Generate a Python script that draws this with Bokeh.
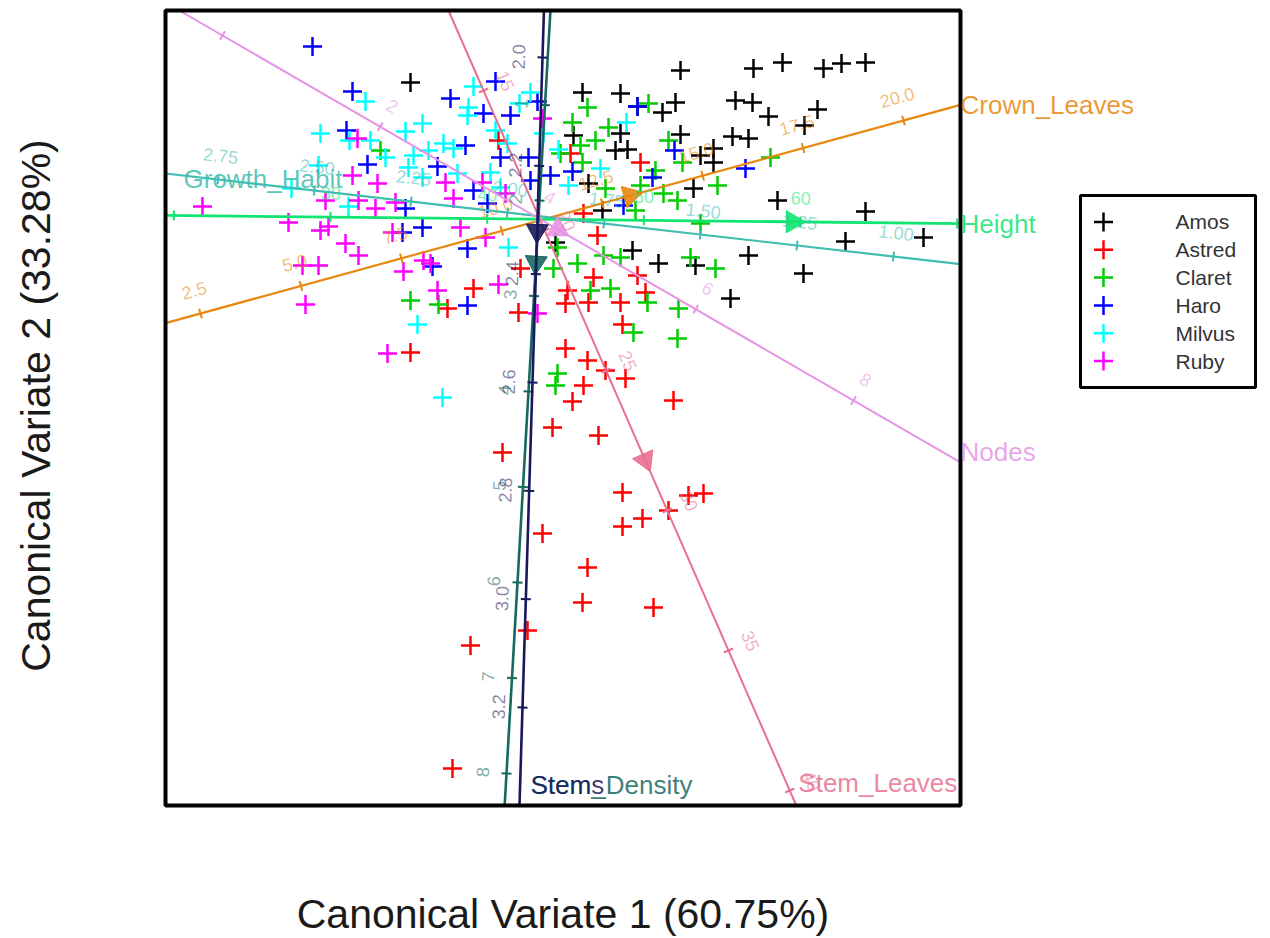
import math
from bokeh.plotting import figure
from bokeh.models import Label
from bokeh.embed import file_html
from bokeh.resources import INLINE
from bokeh.core.properties import value

FONT = "Liberation Sans"

# ---------------- data: canonical variate scores per cultivar ----------------
cultivars = ["Amos", "Astred", "Claret", "Haro", "Milvus", "Ruby"]
point_colors = ["#000000", "#FF0000", "#00CD00", "#0000FF", "#00FFFF", "#FF00FF"]

amos_cv1 = [-1.28, 0.44, 0.82, 1.42, 2.15, 2.44, 2.85, 3.03, 3.27, 0.99, 1.24, 1.37, 1.97, 2.14,
            2.30, 2.79, 2.66, 0.35, 0.82, 1.42, 1.94, 2.10, 0.77, 0.89, 1.62, 1.75, 1.75, 0.50,
            1.55, 2.39, 3.27, 3.07, 3.85, 0.94, 1.20, 1.57, 2.10, 2.65, 1.92, 0.17, 0.64]
amos_cv2 = [1.37, 1.27, 1.26, 1.49, 1.51, 1.57, 1.51, 1.56, 1.57, 1.13, 1.07, 1.17, 1.19, 1.17,
            1.03, 1.10, 0.94, 0.84, 0.86, 0.85, 0.83, 0.81, 0.69, 0.70, 0.64, 0.71, 0.57, 0.36,
            0.31, 0.19, 0.08, -0.22, -0.18, -0.31, -0.44, -0.46, -0.36, -0.54, -0.79, -0.23, 0.09]

astred_cv1 = [-0.40, 0.32, 1.02, 0.45, 0.59, -0.18, -0.65, -0.91, -0.20, 0.29, 0.55, 0.99, 1.07,
              0.50, 0.82, 0.27, 0.84, -1.28, 0.27, 0.49, 0.67, 0.87, 0.45, 0.34, 1.35, 0.14,
              0.60, -0.36, 0.84, 1.50, 1.65, 1.30, 1.04, 0.84, 0.04, 0.49, 0.44, 1.15, -0.11,
              -0.68, -0.86]
astred_cv2 = [0.79, 0.66, 0.57, 0.06, -0.16, -0.49, -0.69, -0.89, -0.93, -0.71, -0.58, -0.56, -0.73,
              -0.83, -0.83, -0.84, -1.05, -1.33, -1.29, -1.41, -1.51, -1.59, -1.66, -1.82, -1.81,
              -2.08, -2.16, -2.33, -2.73, -2.76, -2.74, -2.91, -2.99, -3.07, -3.14, -3.48, -3.83,
              -3.88, -4.11, -4.26, -5.49]

claret_cv1 = [-1.58, 0.34, 0.49, 0.70, 0.57, 0.42, 1.10, 0.22, 0.44, 0.67, 1.02, 1.30, 1.17, 1.44,
              1.25, 1.39, 0.97, 1.79, 2.32, 1.62, 0.39, 0.19, 0.65, 0.82, 1.52, 1.77, 0.52, 0.72,
              1.09, 1.40, 0.95, 1.39, 0.19, 0.17, -1.28, -1.00, 0.15]
claret_cv2 = [0.69, 0.97, 1.12, 0.92, 0.79, 0.74, 1.16, 0.66, 0.57, 0.31, 0.34, 0.79, 0.49, 0.57,
              0.26, 0.19, 0.09, 0.34, 0.62, -0.04, -0.44, -0.28, -0.36, -0.38, -0.38, -0.49, -0.71,
              -0.69, -0.83, -0.89, -1.13, -1.19, -1.54, -1.66, -0.81, -0.85, -0.49]

haro_cv1 = [-2.26, -1.86, -1.92, -1.71, -0.88, -0.43, -0.55, -0.28, -0.01, -1.01, -0.73, -0.38,
            -0.10, -0.65, -0.51, -0.08, 0.12, 0.34, -1.33, -1.16, -1.36, -0.71, -1.06, -0.71,
            0.99, 1.36, 1.14, 2.07, 0.85]
haro_cv2 = [1.73, 1.28, 0.89, 0.55, 1.21, 1.38, 1.06, 1.04, 1.18, 0.53, 0.74, 0.62, 0.62, 0.29,
            0.16, 0.39, 0.44, 0.48, 0.11, -0.08, -0.13, -0.29, -0.47, -0.86, 1.13, 0.69, 0.42,
            0.51, 0.14]

milvus_cv1 = [-1.73, -2.18, -1.89, -1.68, -1.53, -1.33, -1.16, -1.25, -1.30, -1.10, -2.20, -1.16,
              -2.47, -1.90, -0.70, -0.65, -0.08, -0.19, -0.95, -0.85, -0.81, -0.48, -0.31, -0.38,
              0.05, 0.20, 0.30, 0.62, 0.88, -0.71, -0.43, -0.30, -1.21, -0.96]
milvus_cv2 = [1.18, 0.86, 0.79, 0.79, 0.62, 0.88, 0.96, 0.64, 0.52, 0.69, 0.54, 0.42, 0.31, 0.13,
              1.12, 1.33, 1.27, 1.16, 0.76, 0.71, 0.46, 0.47, 0.76, 0.32, 0.86, 0.70, 0.34, 0.51,
              0.97, 1.04, 0.89, -0.28, -1.05, -1.78]

ruby_cv1 = [-3.36, -2.50, -2.18, -2.10, -1.93, -1.80, -2.36, -2.20, -2.33, -1.51, -1.46, -1.35,
            -1.15, -1.63, -1.81, -1.61, -1.86, -2.13, -1.80, -1.43, -0.93, -0.85, -0.56, -0.33,
            0.04, -0.78, -0.53, -1.01, -0.40, -0.01, -1.08]
ruby_cv2 = [0.13, -0.03, -0.11, -0.07, -0.24, -0.36, -0.46, -0.46, -0.85, -1.34, -0.13, -0.52,
            -0.41, 0.11, 0.81, 0.36, 0.44, 0.19, 0.19, 0.17, 0.37, 0.21, 0.37, 0.26, 1.01, -0.08,
            -0.18, -0.71, -0.65, -0.94, -0.44]

group_cv1 = [amos_cv1, astred_cv1, claret_cv1, haro_cv1, milvus_cv1, ruby_cv1]
group_cv2 = [amos_cv2, astred_cv2, claret_cv2, haro_cv2, milvus_cv2, ruby_cv2]

# ---------------- biplot axes (calibrated variables) ----------------
axis_names = ["Crown_Leaves", "Height", "Growth_Habit", "Nodes", "Stem_Leaves", "Stem_Density", "Stems"]
axis_colors = ["#E8870E", "#11E56F", "#3FBDB0", "#E794E6", "#E8708F", "#17695F", "#17195C"]
# calibration: value_a, cv1_a, cv2_a, value_b, cv1_b, cv2_b
axis_calibration = [
    (2.5, -3.38, -0.94, 20.0, 3.65, 0.99),
    (30, -2.08, 0.024, 60, 2.62, -0.024),
    (1.50, 1.62, -0.15, 1.00, 3.55, -0.37),
    (0, -3.16, 1.84, 8, 3.15, -1.81),
    (15, -0.55, 1.29, 35, 1.90, -4.31),
    (4, -0.10, -1.72, 8, -0.32, -5.54),
    (2.6, -0.06, -1.63, 3.2, -0.16, -4.88),
]
axis_ticks = [
    [2.5, 5.0, 7.5, 10.0, 12.5, 15.0, 17.5, 20.0],
    [20, 30, 40, 50, 60, 70],
    [1.00, 1.25, 1.50, 1.75, 2.00, 2.25, 2.50, 2.75],
    [0, 2, 4, 6, 8],
    [15, 20, 25, 30, 35, 40],
    [1, 2, 3, 4, 5, 6, 7, 8],
    [2.0, 2.2, 2.4, 2.6, 2.8, 3.0, 3.2],
]
axis_tick_format = ["{:.1f}", "{:.0f}", "{:.2f}", "{:.0f}", "{:.0f}", "{:.0f}", "{:.1f}"]
axis_mean_marker = [13.2, 59.5, None, 4.25, 28.2, 2.65, 2.32]
axis_label_side = [1, 1, -1, 1, 1, -1, -1]
axis_line_width = [2.2, 2.8, 2.2, 2.0, 2.0, 2.6, 2.6]
axis_name_offset_px = [(0, 0), (0, 0), (18, -5), (0, 10), (2, 23), (26, 21), (11, 21)]

# plot box (canonical variate window) and whole canvas, in canonical-variate units
BOX_X = (-3.73, 4.22)
BOX_Y = (-5.86, 2.09)
W, H = 1262, 936
X_RANGE = (-5.38, -5.38 + W / 100)
Y_RANGE = (2.19 - H / 100, 2.19)
PX = 100.0

# legend box (same units), to the right of the plot box
LEG_X = (5.42, 7.17)
LEG_Y = (-1.68, 0.24)

p = figure(width=W, height=H, x_range=X_RANGE, y_range=Y_RANGE,
           x_axis_location=None, y_axis_location=None,
           toolbar_location=None, output_backend="svg",
           min_border_left=0, min_border_right=0, min_border_top=0, min_border_bottom=0,
           outline_line_color=None,
           background_fill_color="white", border_fill_color="white")
p.xgrid.visible = False
p.ygrid.visible = False


def inside(x, y, m=0.0):
    return BOX_X[0] + m <= x <= BOX_X[1] - m and BOX_Y[0] + m <= y <= BOX_Y[1] - m


# points
for xs, ys, c, n in zip(group_cv1, group_cv2, point_colors, cultivars):
    p.scatter(xs, ys, marker="cross", size=19, line_width=2.5, line_color=c, name=n)

# axes
for i, name in enumerate(axis_names):
    c = axis_colors[i]
    v1, x1, y1, v2, x2, y2 = axis_calibration[i]
    ux, uy = (x2 - x1) / (v2 - v1), (y2 - y1) / (v2 - v1)
    L = math.hypot(ux, uy)
    dx, dy = ux / L, uy / L
    t_lo, t_hi = -1e9, 1e9
    for p0, d, lo, hi in ((x1, dx, BOX_X[0], BOX_X[1]), (y1, dy, BOX_Y[0], BOX_Y[1])):
        if abs(d) > 1e-12:
            ta, tb = (lo - p0) / d, (hi - p0) / d
            t_lo = max(t_lo, min(ta, tb))
            t_hi = min(t_hi, max(ta, tb))
    xa, ya = x1 + t_lo * dx, y1 + t_lo * dy
    xb, yb = x1 + t_hi * dx, y1 + t_hi * dy
    p.line([xa, xb], [ya, yb], line_color=c, line_width=axis_line_width[i])

    side = axis_label_side[i]
    nx, ny = -dy * side, dx * side
    h = 5 / PX
    off = 24 / PX
    tv = [v for v in axis_ticks[i] if inside(x1 + (v - v1) * ux, y1 + (v - v1) * uy)]
    tx = [x1 + (v - v1) * ux for v in tv]
    ty = [y1 + (v - v1) * uy for v in tv]
    p.segment(x0=[x - h * nx for x in tx], y0=[y - h * ny for y in ty],
              x1=[x + h * nx for x in tx], y1=[y + h * ny for y in ty],
              line_color=c, line_width=2)
    theta = math.atan2(dy, dx)
    if theta > math.pi / 2 + 1e-9:
        theta -= math.pi
    elif theta <= -math.pi / 2:
        theta += math.pi
    lab = [(x + off * nx, y + off * ny, axis_tick_format[i].format(v))
           for x, y, v in zip(tx, ty, tv) if inside(x + off * nx, y + off * ny, 0.1)]
    p.text(x=[a[0] for a in lab], y=[a[1] for a in lab], text=[a[2] for a in lab], angle=theta,
           text_align="center", text_baseline="middle", text_font=value(FONT),
           text_font_size="18px", text_color=c, text_alpha=0.55)

    mv = axis_mean_marker[i]
    if mv is not None:
        mx, my = x1 + (mv - v1) * ux, y1 + (mv - v1) * uy
        p.scatter([mx], [my], marker="triangle", size=22,
                  angle=math.atan2(dy, dx) - math.pi / 2,
                  fill_color=c, line_color=c, fill_alpha=0.9)

    ox, oy = axis_name_offset_px[i]
    p.add_layout(Label(x=xb + ox / PX, y=yb + oy / PX, text=name, text_font=FONT,
                       text_font_size="26px", text_color=c, text_alpha=0.85,
                       text_align="left", text_baseline="middle"))

# plot box
p.quad(left=[BOX_X[0]], right=[BOX_X[1]], bottom=[BOX_Y[0]], top=[BOX_Y[1]],
       fill_color=None, line_color="black", line_width=4)

# axis titles
p.add_layout(Label(x=(BOX_X[0] + BOX_X[1]) / 2, y=-6.94, text="Canonical Variate 1 (60.75%)",
                   text_font=FONT, text_font_size="41px", text_color="#1a1a1a",
                   text_align="center", text_baseline="middle"))
p.add_layout(Label(x=-5.03, y=-1.86, text="Canonical Variate 2 (33.28%)", angle=math.pi / 2,
                   text_font=FONT, text_font_size="41px", text_color="#1a1a1a",
                   text_align="center", text_baseline="middle"))

# legend
n_items = len(cultivars)
row_h = (LEG_Y[1] - LEG_Y[0]) / (n_items + 0.9)
rows_y = [LEG_Y[1] - row_h * (k + 0.95) for k in range(n_items)]
p.quad(left=[LEG_X[0]], right=[LEG_X[1]], bottom=[LEG_Y[0]], top=[LEG_Y[1]],
       fill_color="white", line_color="black", line_width=3)
p.scatter([LEG_X[0] + 0.23] * n_items, rows_y, marker="cross", size=19, line_width=2.5,
          line_color=point_colors)
p.text(x=[LEG_X[0] + 0.95] * n_items, y=rows_y, text=cultivars, text_font=value(FONT),
       text_font_size="21px", text_baseline="middle", text_color="#333333")

open("out.html", "w").write(file_html(p, INLINE))
